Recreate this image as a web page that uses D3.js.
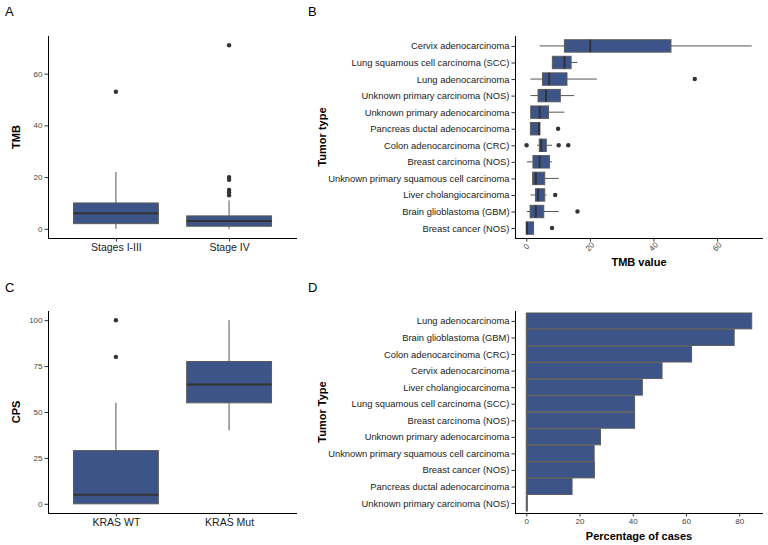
<!DOCTYPE html>
<html><head><meta charset="utf-8">
<script src="https://cdn.jsdelivr.net/npm/d3@7"></script>
<style>body{margin:0;background:#fff}svg{font-family:"Liberation Sans",Arial,sans-serif}</style>
</head><body>
<svg id="c" width="768" height="545"></svg>
<script>
// ---------- Panel A data (TMB by stage) ----------
const stageCats = ["Stages I-III", "Stage IV"];
const stageLow = [0, 0];
const stageQ1 = [2, 1];
const stageMed = [6, 3];
const stageQ3 = [10, 5];
const stageHigh = [22, 11];
const stageOut = [[53], [13, 14, 15, 19, 20, 71]];
const tmbTicks = [0, 20, 40, 60];

// ---------- Panel B data (TMB by tumor type) ----------
const tumorCatsB = ["Cervix adenocarcinoma", "Lung squamous cell carcinoma (SCC)", "Lung adenocarcinoma",
  "Unknown primary carcinoma (NOS)", "Unknown primary adenocarcinoma", "Pancreas ductal adenocarcinoma",
  "Colon adenocarcinoma (CRC)", "Breast carcinoma (NOS)", "Unknown primary squamous cell carcinoma",
  "Liver cholangiocarcinoma", "Brain glioblastoma (GBM)", "Breast cancer (NOS)"];
const bLow  = [4.2, 8.2, 1.3, 1.3, 1.4, 1.3, 3.4, 0.2, 2.0, 1.4, 0.2, 0.0];
const bQ1   = [12, 8.2, 5.1, 3.7, 1.4, 1.3, 4.1, 2.1, 2.0, 2.9, 1.2, 0.0];
const bMed  = [20.1, 12, 7.2, 6.2, 4.2, 4.0, 4.7, 4.2, 3.0, 3.7, 3.0, 0.2];
const bQ3   = [45.5, 14.1, 12.8, 10.7, 7.0, 4.3, 6.3, 7.3, 5.8, 5.8, 5.5, 2.3];
const bHigh = [70.9, 16.1, 22.2, 15.1, 12, 4.3, 8.1, 8.1, 10.2, 6.3, 10.2, 2.3];
const bOut  = [[], [], [53], [], [], [10], [0.1, 10.2, 13.2], [], [], [9.1], [16.1], [8.1]];
const tmbTicksB = [0, 20, 40, 60];

// ---------- Panel C data (CPS by KRAS) ----------
const krasCats = ["KRAS WT", "KRAS Mut"];
const cLow = [0, 40];
const cQ1 = [0, 55];
const cMed = [5, 65];
const cQ3 = [29, 77.5];
const cHigh = [55, 100];
const cOut = [[80, 100], []];
const cpsTicks = [0, 25, 50, 75, 100];

// ---------- Panel D data (percentage of cases) ----------
const tumorCatsD = ["Lung adenocarcinoma", "Brain glioblastoma (GBM)", "Colon adenocarcinoma (CRC)",
  "Cervix adenocarcinoma", "Liver cholangiocarcinoma", "Lung squamous cell carcinoma (SCC)",
  "Breast carcinoma (NOS)", "Unknown primary adenocarcinoma", "Unknown primary squamous cell carcinoma",
  "Breast cancer (NOS)", "Pancreas ductal adenocarcinoma", "Unknown primary carcinoma (NOS)"];
const pctValues = [84.7, 78.1, 62.1, 51, 43.6, 40.7, 40.7, 27.9, 25.5, 25.6, 17.2, 0.4];
const pctTicks = [0, 20, 40, 60, 80];

const FILL = "#3C5488", EDGE = "#5c5c5c", DARK = "#333333";
const svg = d3.select("#c");

function expandDomain(lo, hi) { const e = (hi - lo) * 0.05; return [lo - e, hi + e]; }
function discrete(n, r0, r1) { return d3.scaleLinear().domain([0.4, n + 0.6]).range([r0, r1]); }

function panelLabel(t, x, y) {
  svg.append("text").attr("x", x).attr("y", y).attr("font-size", 13).attr("fill", "#000").text(t);
}

// ---------- vertical boxplot panel ----------
function vBoxPanel(o) {
  const {cats, low, q1, med, q3, high, out, ticks, x0, x1, y0, y1, ytitle} = o;
  const allVals = [].concat(low, high, ...out);
  const y = d3.scaleLinear().domain(expandDomain(d3.min(allVals), d3.max(allVals))).range([y1, y0]);
  const x = discrete(cats.length, x0, x1);
  const g = svg.append("g");
  const yAx = g.append("g").attr("transform", `translate(${x0},0)`)
    .call(d3.axisLeft(y).tickValues(ticks).tickSize(3.5).tickPadding(2));
  yAx.select(".domain").attr("d", `M0.5,${y0}V${y1}`).attr("stroke", "#000");
  yAx.selectAll(".tick line").attr("stroke", DARK);
  yAx.selectAll(".tick text").attr("font-size", 8).attr("fill", "#444").attr("font-family", "Liberation Sans, Arial");
  const xAx = g.append("g").attr("transform", `translate(0,${y1})`)
    .call(d3.axisBottom(x).tickValues(d3.range(1, cats.length + 1)).tickFormat(i => cats[i - 1]).tickSize(3.5).tickPadding(2.5));
  xAx.select(".domain").attr("d", `M${x0},0.5H${x1}`).attr("stroke", "#000");
  xAx.selectAll(".tick line").attr("stroke", DARK);
  xAx.selectAll(".tick text").attr("font-size", 10.5).attr("fill", "#222").attr("font-family", "Liberation Sans, Arial");
  const bw = (x(1.375) - x(1)) ;
  cats.forEach((c, i) => {
    const cx = x(i + 1);
    g.append("line").attr("x1", cx).attr("x2", cx).attr("y1", y(q3[i])).attr("y2", y(high[i])).attr("stroke", "#555").attr("stroke-width", 1);
    g.append("line").attr("x1", cx).attr("x2", cx).attr("y1", y(q1[i])).attr("y2", y(low[i])).attr("stroke", "#555").attr("stroke-width", 1);
    g.append("rect").attr("x", cx - bw).attr("width", 2 * bw).attr("y", y(q3[i])).attr("height", Math.max(0, y(q1[i]) - y(q3[i])))
      .attr("fill", FILL).attr("stroke", EDGE).attr("stroke-width", 1);
    g.append("line").attr("x1", cx - bw).attr("x2", cx + bw).attr("y1", y(med[i])).attr("y2", y(med[i])).attr("stroke", DARK).attr("stroke-width", 2);
    out[i].forEach(v => g.append("circle").attr("cx", cx).attr("cy", y(v)).attr("r", 2.2).attr("fill", DARK));
  });
  svg.append("text").attr("transform", `translate(${x0 - 28},${(y0 + y1) / 2}) rotate(-90)`)
    .attr("text-anchor", "middle").attr("font-size", 11).attr("font-weight", "bold").text(ytitle);
}

// ---------- horizontal boxplot panel ----------
function hBoxPanel(o) {
  const {cats, low, q1, med, q3, high, out, ticks, x0, x1, y0, y1, xtitle, ytitle} = o;
  const allVals = [].concat(low, high, ...out);
  const x = d3.scaleLinear().domain(expandDomain(d3.min(allVals), d3.max(allVals))).range([x0, x1]);
  const y = discrete(cats.length, y0, y1);
  const g = svg.append("g");
  const yAx = g.append("g").attr("transform", `translate(${x0},0)`)
    .call(d3.axisLeft(y).tickValues(d3.range(1, cats.length + 1)).tickFormat(i => cats[i - 1]).tickSize(3.5).tickPadding(2));
  yAx.select(".domain").attr("d", `M0.5,${y0}V${y1}`).attr("stroke", "#000");
  yAx.selectAll(".tick line").attr("stroke", DARK);
  yAx.selectAll(".tick text").attr("font-size", 9.4).attr("fill", "#222").attr("font-family", "Liberation Sans, Arial");
  const xAx = g.append("g").attr("transform", `translate(0,${y1})`)
    .call(d3.axisBottom(x).tickValues(ticks).tickSize(3.5).tickPadding(2));
  xAx.select(".domain").attr("d", `M${x0},0.5H${x1}`).attr("stroke", "#000");
  xAx.selectAll(".tick line").attr("stroke", DARK);
  xAx.selectAll(".tick text").attr("font-size", 8).attr("fill", "#444").attr("font-family", "Liberation Sans, Arial")
    .attr("text-anchor", "middle").attr("dy", null).attr("y", 0).attr("transform", "translate(0,9) rotate(-45)").attr("dominant-baseline", "middle");
  const bh = (y(1.375) - y(1));
  cats.forEach((c, i) => {
    const cy = y(i + 1);
    if (high[i] > q3[i]) g.append("line").attr("y1", cy).attr("y2", cy).attr("x1", x(q3[i])).attr("x2", x(high[i])).attr("stroke", "#555");
    if (low[i] < q1[i]) g.append("line").attr("y1", cy).attr("y2", cy).attr("x1", x(q1[i])).attr("x2", x(low[i])).attr("stroke", "#555");
    g.append("rect").attr("y", cy - bh).attr("height", 2 * bh).attr("x", x(q1[i])).attr("width", Math.max(0, x(q3[i]) - x(q1[i])))
      .attr("fill", FILL).attr("stroke", EDGE).attr("stroke-width", 1);
    g.append("line").attr("y1", cy - bh).attr("y2", cy + bh).attr("x1", x(med[i])).attr("x2", x(med[i])).attr("stroke", DARK).attr("stroke-width", 2);
    out[i].forEach(v => g.append("circle").attr("cy", cy).attr("cx", x(v)).attr("r", 2.2).attr("fill", DARK));
  });
  svg.append("text").attr("x", (x0 + x1) / 2).attr("y", y1 + 28).attr("text-anchor", "middle")
    .attr("font-size", 11).attr("font-weight", "bold").text(xtitle);
  svg.append("text").attr("transform", `translate(${x0 - 189},${(y0 + y1) / 2}) rotate(-90)`)
    .attr("text-anchor", "middle").attr("font-size", 11).attr("font-weight", "bold").text(ytitle);
}

// ---------- horizontal bar panel ----------
function barPanel(o) {
  const {cats, vals, ticks, x0, x1, y0, y1, xtitle, ytitle} = o;
  const x = d3.scaleLinear().domain(expandDomain(0, d3.max(vals))).range([x0, x1]);
  const y = discrete(cats.length, y0, y1);
  const g = svg.append("g");
  const bh = (y(1.48) - y(1));
  cats.forEach((c, i) => {
    const cy = y(i + 1);
    g.append("rect").attr("y", cy - bh).attr("height", 2 * bh).attr("x", x(0)).attr("width", Math.max(0, x(vals[i]) - x(0)))
      .attr("fill", FILL).attr("stroke", EDGE).attr("stroke-width", 1);
  });
  const yAx = g.append("g").attr("transform", `translate(${x0},0)`)
    .call(d3.axisLeft(y).tickValues(d3.range(1, cats.length + 1)).tickFormat(i => cats[i - 1]).tickSize(3.5).tickPadding(2));
  yAx.select(".domain").attr("d", `M0.5,${y0}V${y1}`).attr("stroke", "#000");
  yAx.selectAll(".tick line").attr("stroke", DARK);
  yAx.selectAll(".tick text").attr("font-size", 9.4).attr("fill", "#222").attr("font-family", "Liberation Sans, Arial");
  const xAx = g.append("g").attr("transform", `translate(0,${y1})`)
    .call(d3.axisBottom(x).tickValues(ticks).tickSize(3.5).tickPadding(2));
  xAx.select(".domain").attr("d", `M${x0},0.5H${x1}`).attr("stroke", "#000");
  xAx.selectAll(".tick line").attr("stroke", DARK);
  xAx.selectAll(".tick text").attr("font-size", 8).attr("fill", "#444").attr("font-family", "Liberation Sans, Arial");
  svg.append("text").attr("x", (x0 + x1) / 2).attr("y", y1 + 27).attr("text-anchor", "middle")
    .attr("font-size", 11).attr("font-weight", "bold").text(xtitle);
  svg.append("text").attr("transform", `translate(${x0 - 189},${(y0 + y1) / 2}) rotate(-90)`)
    .attr("text-anchor", "middle").attr("font-size", 11).attr("font-weight", "bold").text(ytitle);
}

vBoxPanel({cats: stageCats, low: stageLow, q1: stageQ1, med: stageMed, q3: stageQ3, high: stageHigh, out: stageOut,
  ticks: tmbTicks, x0: 48, x1: 297, y0: 36, y1: 238, ytitle: "TMB"});
hBoxPanel({cats: tumorCatsB, low: bLow, q1: bQ1, med: bMed, q3: bQ3, high: bHigh, out: bOut,
  ticks: tmbTicksB, x0: 515, x1: 763, y0: 36, y1: 238, xtitle: "TMB value", ytitle: "Tumor type"});
vBoxPanel({cats: krasCats, low: cLow, q1: cQ1, med: cMed, q3: cQ3, high: cHigh, out: cOut,
  ticks: cpsTicks, x0: 48, x1: 297, y0: 311, y1: 513, ytitle: "CPS"});
barPanel({cats: tumorCatsD, vals: pctValues, ticks: pctTicks, x0: 515, x1: 763, y0: 311, y1: 513,
  xtitle: "Percentage of cases", ytitle: "Tumor Type"});

panelLabel("A", 5, 16);
panelLabel("B", 308, 16);
panelLabel("C", 5, 292);
panelLabel("D", 308, 292);
</script>
</body></html>
